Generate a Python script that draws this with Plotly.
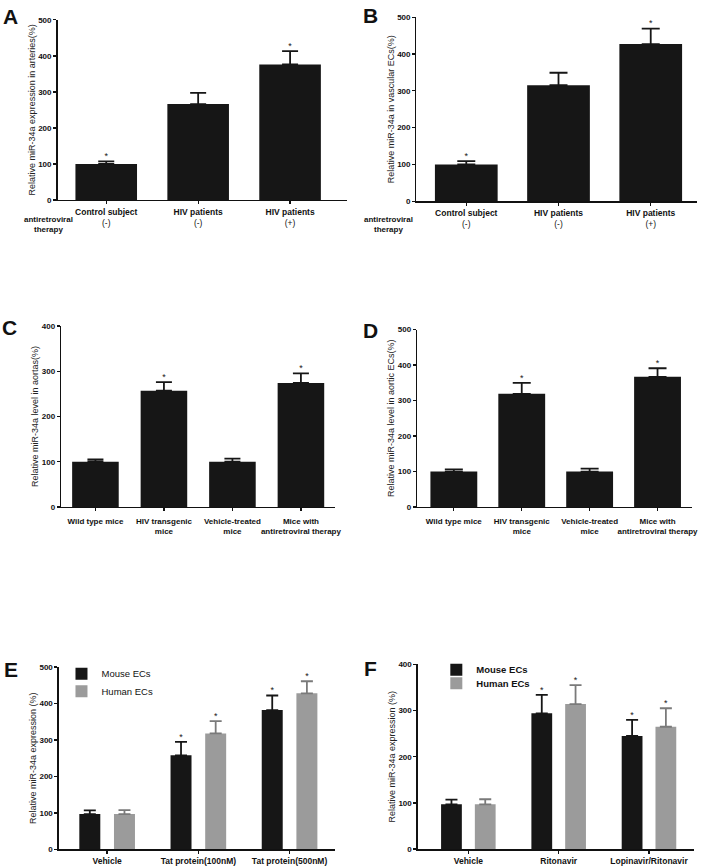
import plotly.graph_objects as go

W, H = 717, 867
FONT = "Liberation Sans, Arial, sans-serif"
BLACK = "#161616"
GREY = "#9b9b9b"

# ---------------- data ----------------
a_cats = ["<b>Control subject</b><br>(-)", "<b>HIV patients</b><br>(-)", "<b>HIV patients</b><br>(+)"]
a_vals = [100, 266, 376]
a_err = [7, 31, 37]
a_sig = [True, False, True]

b_cats = ["<b>Control subject</b><br>(-)", "<b>HIV patients</b><br>(-)", "<b>HIV patients</b><br>(+)"]
b_vals = [100, 315, 427]
b_err = [9, 34, 42]
b_sig = [True, False, True]

cd_cats = ["Wild type mice", "HIV transgenic<br>mice", "Vehicle-treated<br>mice",
           "Mice with<br>antiretroviral therapy"]
c_vals = [100, 257, 100, 274]
c_err = [5, 19, 7, 21]
c_sig = [False, True, False, True]

d_vals = [100, 319, 100, 367]
d_err = [6, 31, 8, 24]
d_sig = [False, True, False, True]

e_cats = ["Vehicle", "Tat protein(100nM)", "Tat protein(500nM)"]
e_mouse = [97, 258, 382]
e_mouse_err = [10, 37, 40]
e_human = [97, 318, 428]
e_human_err = [11, 34, 33]
e_sig_mouse = [False, True, True]
e_sig_human = [False, True, True]

f_cats = ["Vehicle", "Ritonavir", "Lopinavir/Ritonavir"]
f_mouse = [97, 294, 245]
f_mouse_err = [10, 40, 35]
f_human = [97, 314, 265]
f_human_err = [11, 41, 40]
f_sig_mouse = [False, True, True]
f_sig_human = [False, True, True]

series_names = ["Mouse ECs", "Human ECs"]

fig = go.Figure()


def xd(a, b):
    return [a / W, b / W]


def yd(top, bot):
    return [1 - bot / H, 1 - top / H]


def add_single(ax, cats, vals, err, sig, width, capw):
    xs = list(range(len(cats)))
    fig.add_trace(go.Bar(
        x=xs, y=vals, width=width, marker=dict(color=BLACK, line=dict(width=0)),
        error_y=dict(type="data", array=err, arrayminus=[0] * len(err), symmetric=False,
                     color=BLACK, thickness=1.8, width=capw),
        xaxis="x" + ax, yaxis="y" + ax, showlegend=False, hoverinfo="skip"))
    sx = [x for x, s in zip(xs, sig) if s]
    sy = [v + e for v, e, s in zip(vals, err, sig) if s]
    fig.add_trace(go.Scatter(
        x=sx, y=sy, mode="text", text=["*"] * len(sx), textposition="top center",
        textfont=dict(family=FONT, size=9, color=BLACK),
        xaxis="x" + ax, yaxis="y" + ax, showlegend=False, hoverinfo="skip"))


def add_group(ax, cats, m, me, h, he, sm, sh, half, width, capw, legends):
    xs = list(range(len(cats)))
    for vals, err, sig, col, ecol, name, sgn, lg in [
            (m, me, sm, BLACK, BLACK, series_names[0], -1, legends[0]),
            (h, he, sh, GREY, "#7a7a7a", series_names[1], 1, legends[1])]:
        px = [x + sgn * half for x in xs]
        fig.add_trace(go.Bar(
            x=px, y=vals, width=width, name=name, marker=dict(color=col, line=dict(width=0)),
            error_y=dict(type="data", array=err, arrayminus=[0] * len(err), symmetric=False,
                         color=ecol, thickness=1.8, width=capw),
            xaxis="x" + ax, yaxis="y" + ax, legend=lg, hoverinfo="skip"))
        sx = [x for x, s in zip(px, sig) if s]
        sy = [v + e for v, e, s in zip(vals, err, sig) if s]
        fig.add_trace(go.Scatter(
            x=sx, y=sy, mode="text", text=["*"] * len(sx), textposition="top center",
            textfont=dict(family=FONT, size=9, color=BLACK),
            xaxis="x" + ax, yaxis="y" + ax, showlegend=False, hoverinfo="skip"))


add_single("", a_cats, a_vals, a_err, a_sig, 0.67, 8)
add_single("2", b_cats, b_vals, b_err, b_sig, 0.68, 9)
add_single("3", cd_cats, c_vals, c_err, c_sig, 0.68, 8)
add_single("4", cd_cats, d_vals, d_err, d_sig, 0.69, 9)
add_group("5", e_cats, e_mouse, e_mouse_err, e_human, e_human_err, e_sig_mouse, e_sig_human,
          0.19, 0.23, 6, ("legend", "legend3"))
add_group("6", f_cats, f_mouse, f_mouse_err, f_human, f_human_err, f_sig_mouse, f_sig_human,
          0.187, 0.23, 6, ("legend2", "legend4"))

axis_common = dict(showline=True, linecolor="#111", linewidth=1.4, ticks="outside",
                   ticklen=3, tickwidth=1.3, tickcolor="#111", showgrid=False, zeroline=False,
                   fixedrange=True)

panels = [
    # key, xdom, ydom, xrange, ymax, cats, title, bold cats, label standoff, label size
    ("", xd(58, 350), yd(16, 198), [-0.53, 2.62], 500, a_cats,
     "Relative miR-34a expression in arteries(%)", False, 0, 8.5),
    ("2", xd(420, 703), yd(13.3, 199.3), [-0.54, 2.503], 500, b_cats,
     "Relative miR-34a in vascular ECs(%)", False, 0, 8.5),
    ("3", xd(61.7, 338), yd(325.3, 508.3), [-0.5, 3.5], 400, cd_cats,
     "Relative miR-34a level in aortas(%)", True, 3, 8),
    ("4", xd(420.7, 698), yd(329, 508.3), [-0.54, 3.51], 500, cd_cats,
     "Relative miR-34a level in aortic ECs(%)", True, 3, 8),
    ("5", xd(59.3, 338), yd(670, 854.3), [-0.53, 2.5], 500, e_cats,
     "Relative miR-34a expression (%)", True, 0, 8.5),
    ("6", xd(421.3, 700), yd(667.3, 854), [-0.56, 2.5], 400, f_cats,
     "Relative miR-34a expression (%)", True, 0, 8.5),
]

layout = dict(width=W, height=H, margin=dict(l=0, r=0, t=0, b=0),
              paper_bgcolor="white", plot_bgcolor="white",
              font=dict(family=FONT, color="#111"), barmode="overlay")

for key, xdom, ydom, xr, ymax, cats, title, boldcats, stand, lsize in panels:
    xa = dict(axis_common, domain=xdom, range=xr, tickmode="array",
              tickvals=list(range(len(cats))),
              ticktext=[("<b>" + c.replace("<br>", "</b><br><b>") + "</b>") if boldcats else c
                        for c in cats],
              tickfont=dict(family=FONT, size=lsize, color="#111"), tickangle=0,
              anchor="y" + key, ticklabelstandoff=stand)
    ya = dict(axis_common, domain=ydom, range=[0, ymax], tickmode="linear", tick0=0, dtick=100,
              tickfont=dict(family=FONT, size=8, color="#111", weight="bold"),
              anchor="x" + key,
              title=dict(text=title, font=dict(family=FONT, size=9, color="#222"), standoff=1))
    layout["xaxis" + key] = xa
    layout["yaxis" + key] = ya

leg_common = dict(xanchor="left", yanchor="top", bgcolor="rgba(0,0,0,0)",
                  itemwidth=30, tracegroupgap=0)
layout["legend"] = dict(leg_common, x=62 / W, y=1 - 662 / H,
                        font=dict(family=FONT, size=9.5, color="#111"))
layout["legend3"] = dict(leg_common, x=62 / W, y=1 - 679.7 / H,
                         font=dict(family=FONT, size=9.5, color="#111"))
layout["legend2"] = dict(leg_common, x=440 / W, y=1 - 658 / H,
                         font=dict(family=FONT, size=9.5, color="#111", weight="bold"))
layout["legend4"] = dict(leg_common, x=440 / W, y=1 - 671.7 / H,
                         font=dict(family=FONT, size=9.5, color="#111", weight="bold"))

letters = [("A", 11, 13), ("B", 374, 12), ("C", 10, 327), ("D", 374, 330),
           ("E", 11, 672), ("F", 374, 671)]
ann = []
for t, x, y in letters:
    ann.append(dict(text="<b>" + t + "</b>", x=x / W, y=1 - y / H, xref="paper", yref="paper",
                    showarrow=False, font=dict(family=FONT, size=21, color="#111"),
                    xanchor="center", yanchor="middle"))
for x in (49, 392):
    ann.append(dict(text="<b>antiretroviral<br>therapy</b>", x=x / W, y=1 - 223 / H,
                    xref="paper", yref="paper", showarrow=False,
                    font=dict(family=FONT, size=8, color="#111"),
                    xanchor="center", yanchor="middle"))
layout["annotations"] = ann

fig.update_layout(**layout)
fig.write_html("out.html", config={"displayModeBar": False, "staticPlot": True},
               post_script="document.body.style.margin='0';document.body.style.overflow='hidden';")
